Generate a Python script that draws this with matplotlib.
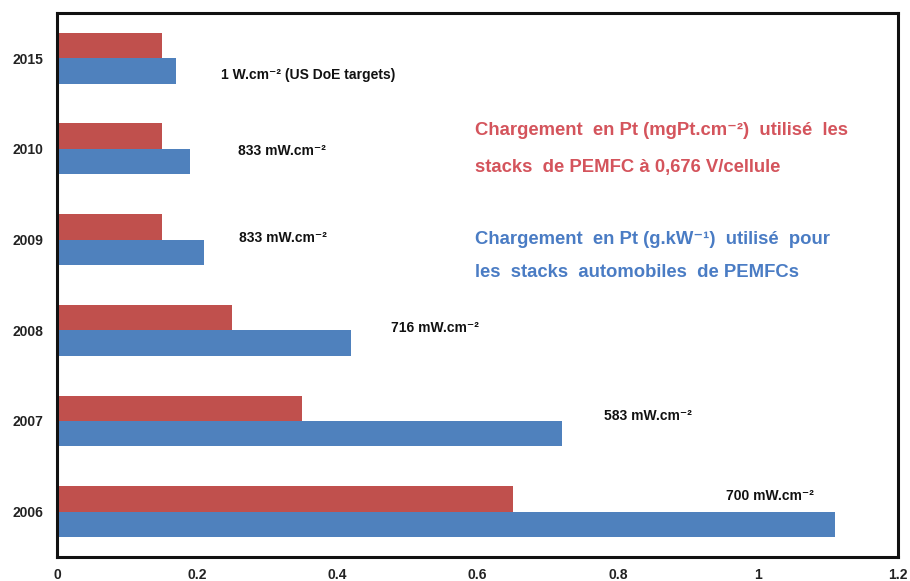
import matplotlib
matplotlib.use("Agg")
import matplotlib.pyplot as plt
import numpy as np

plt.rcParams['font.family'] = ['Liberation Sans', 'DejaVu Sans']

years = ['2006', '2007', '2008', '2009', '2010', '2015']
pt_mg_cm2 = [0.65, 0.35, 0.25, 0.15, 0.15, 0.15]     # red series
pt_g_kw = [1.11, 0.72, 0.42, 0.21, 0.19, 0.17]       # blue series
power_labels = ['700 mW.cm⁻²', '583 mW.cm⁻²', '716 mW.cm⁻²',
                '833 mW.cm⁻²', '833 mW.cm⁻²', '1 W.cm⁻² (US DoE targets)']
label_x = [0.955, 0.78, 0.477, 0.26, 0.258, 0.234]
label_dy = [0.17, 0.05, 0.03, 0.02, -0.02, -0.19]

red_lines = ['Chargement  en Pt (mgPt.cm⁻²)  utilisé  les',
             'stacks  de PEMFC à 0,676 V/cellule']
blue_lines = ['Chargement  en Pt (g.kW⁻¹)  utilisé  pour',
              'les  stacks  automobiles  de PEMFCs']

red = '#C0504D'
blue = '#4F81BD'

fig = plt.figure(figsize=(9.1, 5.81), dpi=100)
ax = fig.add_axes([0.0626, 0.0413, 0.9244, 0.9367])

y = np.arange(len(years))
h = 0.28
ax.barh(y + h / 2, pt_mg_cm2, height=h, color=red)
ax.barh(y - h / 2, pt_g_kw, height=h, color=blue)

for i, txt in enumerate(power_labels):
    ax.text(label_x[i], y[i] + label_dy[i], txt, fontsize=10, fontweight='bold',
            ha='left', va='center', color='#111111')

for txt, yy in zip(red_lines, [4.20, 3.79]):
    ax.text(0.596, yy, txt, fontsize=13.3, fontweight='bold', color='#D4545C',
            ha='left', va='center')
for txt, yy in zip(blue_lines, [3.0, 2.64]):
    ax.text(0.596, yy, txt, fontsize=13.3, fontweight='bold', color='#4A7CC4',
            ha='left', va='center')

ax.set_xlim(0, 1.2)
ax.set_ylim(-0.5, 5.5)
ax.set_xticks([0, 0.2, 0.4, 0.6, 0.8, 1.0, 1.2])
ax.set_xticklabels(['0', '0.2', '0.4', '0.6', '0.8', '1', '1.2'])
ax.set_yticks(y)
ax.set_yticklabels(years)
ax.tick_params(length=0, labelsize=10, colors='#222222')
ax.tick_params(axis='y', pad=10)
ax.tick_params(axis='x', pad=8)
for lab in ax.get_xticklabels() + ax.get_yticklabels():
    lab.set_fontweight('bold')
for s in ax.spines.values():
    s.set_linewidth(2.2)
    s.set_color('#111111')

fig.savefig('out.png', dpi=100)
